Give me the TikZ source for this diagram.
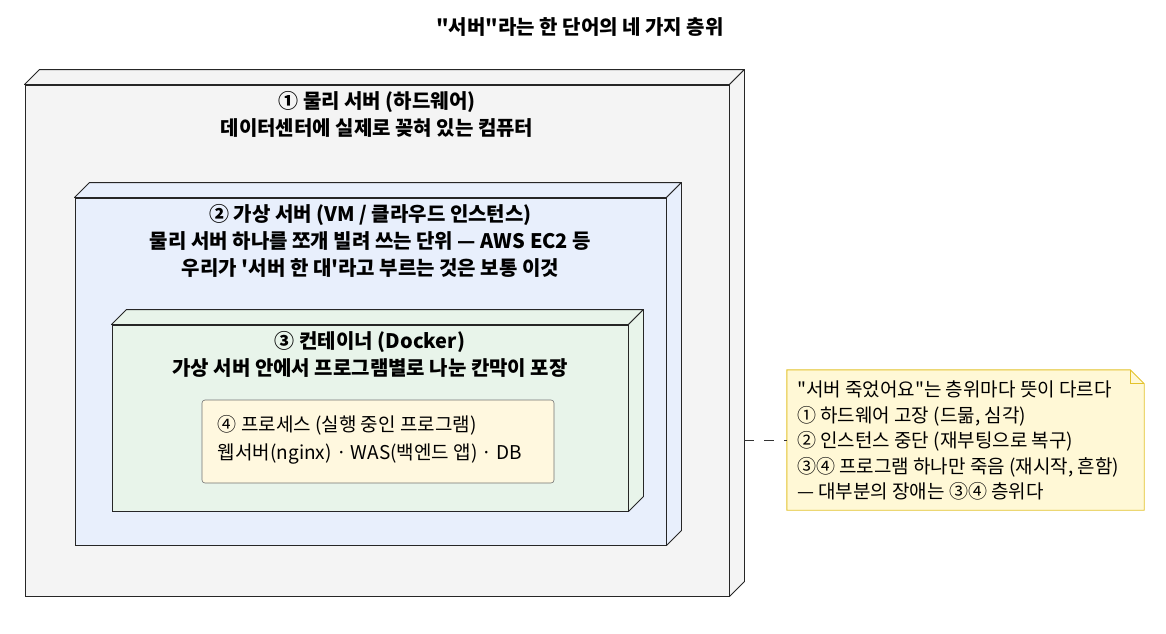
\documentclass[tikz,border=0pt]{standalone}
\usepackage{fontspec}
\setmainfont{Noto Sans CJK KR}[Ligatures=TeXOff]
\usetikzlibrary{positioning}

\definecolor{physfill}{HTML}{F4F4F4}
\definecolor{vmfill}{HTML}{E8EFFC}
\definecolor{ctrfill}{HTML}{E8F4EA}
\definecolor{procfill}{HTML}{FFF8DF}
\definecolor{notefill}{HTML}{FFF8D6}
\definecolor{notedraw}{HTML}{E3C22B}

\tikzset{
  box/.style={shape=rectangle,draw=black!85,line width=0.9pt,inner sep=0pt},
  lbl/.style={align=center,font=\bfseries\fontsize{20}{27}\selectfont,inner sep=0pt},
  txt/.style={align=left,font=\fontsize{19}{25.5}\selectfont,inner sep=0pt},
}

% side and top faces of a box node
\newcommand{\boxdepth}[2]{%
  \filldraw[fill=#2,draw=black!85,line width=0.9pt,line join=round]
    (#1.north west) -- ++(15pt,15pt) -- ([shift={(15pt,15pt)}]#1.north east) -- (#1.north east) -- cycle;
  \filldraw[fill=#2,draw=black!85,line width=0.9pt,line join=round]
    (#1.north east) -- ++(15pt,15pt) -- ([shift={(15pt,15pt)}]#1.south east) -- (#1.south east) -- cycle;
}

\begin{document}
\begin{tikzpicture}[x=1pt,y=-1pt]
\useasboundingbox (0,0) rectangle (1166,633);

\node[font=\bfseries\fontsize{20}{24}\selectfont] (title) at (580,27) {"서버"라는 한 단어의 네 가지 층위};

% 1 physical
\node[box,fill=physfill,minimum width=704pt,minimum height=511pt] (phys) at (377,340.5) {};
\boxdepth{phys}{physfill}
\node[lbl,below=7pt of phys.north] (physlbl) {① 물리 서버 (하드웨어)\\데이터센터에 실제로 꽂혀 있는 컴퓨터};

% 2 virtual machine
\node[box,fill=vmfill,minimum width=591pt,minimum height=347pt] (vm) at (370.5,371.5) {};
\boxdepth{vm}{vmfill}
\node[lbl,below=7pt of vm.north] (vmlbl) {② 가상 서버 (VM / 클라우드 인스턴스)\\물리 서버 하나를 쪼개 빌려 쓰는 단위 — AWS EC2 등\\우리가 '서버 한 대'라고 부르는 것은 보통 이것};

% 3 container
\node[box,fill=ctrfill,minimum width=516pt,minimum height=186pt] (ctr) at (370,418) {};
\boxdepth{ctr}{ctrfill}
\node[lbl,below=7pt of ctr.north] (ctrlbl) {③ 컨테이너 (Docker)\\가상 서버 안에서 프로그램별로 나눈 칸막이 포장};

% 4 process
\node[box,draw=black!55,line width=0.6pt,rounded corners=3pt,fill=procfill,minimum width=352pt,minimum height=83pt] (proc) at (378,441.5) {};
\node[txt,font=\fontsize{19}{28}\selectfont,anchor=north west] (proctxt) at ([shift={(16pt,-16pt)}]proc.north west) {④ 프로세스 (실행 중인 프로그램)\\웹서버(nginx) · WAS(백엔드 앱) · DB};

% note
\node[shape=rectangle,inner sep=0pt,minimum width=357pt,minimum height=140pt] (note) at (965.5,440) {};
\filldraw[fill=notefill,draw=notedraw,line width=0.9pt]
  (note.north west) -- ([xshift=-14pt]note.north east) -- ([yshift=-14pt]note.north east)
  -- (note.south east) -- (note.south west) -- cycle;
\draw[draw=notedraw,line width=0.9pt]
  ([xshift=-14pt]note.north east) -- ([shift={(-14pt,-14pt)}]note.north east) -- ([yshift=-14pt]note.north east);
\node[txt,anchor=north west] (notetxt) at ([shift={(10pt,-11pt)}]note.north west) {"서버 죽었어요"는 층위마다 뜻이 다르다\\① 하드웨어 고장 (드묾, 심각)\\② 인스턴스 중단 (재부팅으로 복구)\\③④ 프로그램 하나만 죽음 (재시작, 흔함)\\— 대부분의 장애는 ③④ 층위다};

\coordinate (physE) at ([xshift=15pt]phys.east);
\draw[black!80,line width=0.9pt,dash pattern=on 10pt off 10pt] (physE |- note.west) -- (note.west);
\end{tikzpicture}
\end{document}
